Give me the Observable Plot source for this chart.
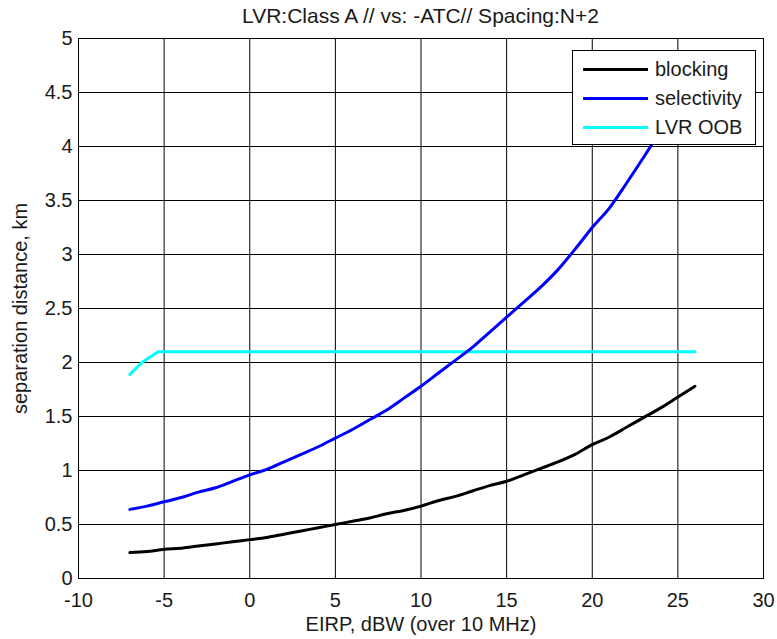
<!DOCTYPE html>
<html>
<head>
<meta charset="utf-8">
<script src="https://cdn.jsdelivr.net/npm/d3@7"></script>
<script src="https://cdn.jsdelivr.net/npm/@observablehq/plot@0.6"></script>
<style>
  html, body { margin: 0; padding: 0; background: #fff; }
  body { font-family: "Liberation Sans", Arial, sans-serif; color: #1a1a1a; }
  #wrap { position: relative; width: 777px; height: 639px; }
  #title { position: absolute; left: 78px; width: 685px; top: 5px; text-align: center; font-size: 21px; line-height: 21px; white-space: nowrap; }
  #legend { position: absolute; left: 572px; top: 50px; width: 182px; height: 93px; border: 1px solid #000; background: #fff; }
  .row { position: absolute; left: 10px; height: 20px; display: flex; align-items: center; font-size: 20px; line-height: 20px; white-space: nowrap; }
  .swatch { width: 65px; height: 3px; margin-right: 7px; }
  #plot svg { display: block; }
</style>
</head>
<body>
<div id="wrap">
  <div id="plot"></div>
  <div id="title"></div>
  <div id="legend"></div>
</div>
<script>
// ---- data ----
const titleText = "LVR:Class A // vs: -ATC// Spacing:N+2";
const xLabel = "EIRP, dBW (over 10 MHz)";
const yLabel = "separation distance, km";
const xTicks = [-10, -5, 0, 5, 10, 15, 20, 25, 30];
const yTicks = [0, 0.5, 1, 1.5, 2, 2.5, 3, 3.5, 4, 4.5, 5];

const seriesNames = ["blocking", "selectivity", "LVR OOB"];
const seriesColors = ["#000000", "#0000ff", "#00ffff"];

const eirp = [-7, -6, -5, -4, -3, -2, -1, 0, 1, 2, 3, 4, 5, 6, 7, 8, 9, 10, 11, 12, 13, 14, 15, 16, 17, 18, 19, 20, 21, 22, 23, 24, 25, 26];
const blocking = [0.24, 0.25, 0.27, 0.28, 0.30, 0.32, 0.34, 0.36, 0.38, 0.41, 0.44, 0.47, 0.50, 0.53, 0.56, 0.60, 0.63, 0.67, 0.72, 0.76, 0.81, 0.86, 0.90, 0.96, 1.02, 1.08, 1.15, 1.24, 1.31, 1.40, 1.49, 1.58, 1.68, 1.78];
const selectivity = [0.64, 0.67, 0.71, 0.75, 0.80, 0.84, 0.90, 0.96, 1.01, 1.08, 1.15, 1.22, 1.30, 1.38, 1.47, 1.56, 1.67, 1.78, 1.90, 2.02, 2.14, 2.28, 2.42, 2.56, 2.70, 2.86, 3.05, 3.25, 3.43, 3.66, 3.90, 4.15, 4.42, 4.70];
const oobX = [-7, -6.3, -5.35, 26];
const oobY = [1.89, 2.0, 2.1, 2.1];

// ---- build rows ----
const curveRows = [];
eirp.forEach((x, i) => curveRows.push({series: seriesNames[0], x, y: blocking[i]}));
eirp.forEach((x, i) => curveRows.push({series: seriesNames[1], x, y: selectivity[i]}));
const oobRows = oobX.map((x, i) => ({series: seriesNames[2], x, y: oobY[i]}));

const fmt = d => String(d);

const plot = Plot.plot({
  width: 777,
  height: 639,
  marginLeft: 78,
  marginRight: 14,
  marginTop: 38,
  marginBottom: 61,
  style: { fontFamily: "Liberation Sans, Arial, sans-serif", fontSize: "20px", color: "#1a1a1a", background: "#fff", overflow: "visible" },
  x: { domain: [-10, 30] },
  y: { domain: [0, 5] },
  color: { domain: seriesNames, range: seriesColors },
  marks: [
    Plot.gridX(xTicks, { stroke: "#000", strokeOpacity: 1, strokeWidth: 1 }),
    Plot.gridY(yTicks, { stroke: "#000", strokeOpacity: 1, strokeWidth: 1 }),
    Plot.axisX(xTicks, { tickSize: 0, tickPadding: 14, tickFormat: fmt, label: xLabel, labelAnchor: "center", labelOffset: 52, labelArrow: "none" }),
    Plot.axisY(yTicks, { tickSize: 0, tickPadding: 6, tickFormat: fmt, label: yLabel, labelAnchor: "center", labelOffset: 66, labelArrow: "none" }),
    Plot.line(oobRows, { x: "x", y: "y", stroke: "series", strokeWidth: 3, strokeLinejoin: "round" }),
    Plot.line(curveRows, { x: "x", y: "y", z: "series", stroke: "series", strokeWidth: 3, strokeLinejoin: "round", curve: "monotone-x" }),
    Plot.frame({ stroke: "#000", strokeWidth: 1 })
  ]
});
document.getElementById("plot").appendChild(plot);
document.getElementById("title").textContent = titleText;

const legend = document.getElementById("legend");
const rowTops = [8, 37, 66];
seriesNames.forEach((name, i) => {
  const r = document.createElement("div");
  r.className = "row";
  r.style.top = rowTops[i] + "px";
  const sw = document.createElement("div");
  sw.className = "swatch";
  sw.style.background = seriesColors[i];
  const t = document.createElement("span");
  t.textContent = name;
  r.appendChild(sw);
  r.appendChild(t);
  legend.appendChild(r);
});
</script>
</body>
</html>
